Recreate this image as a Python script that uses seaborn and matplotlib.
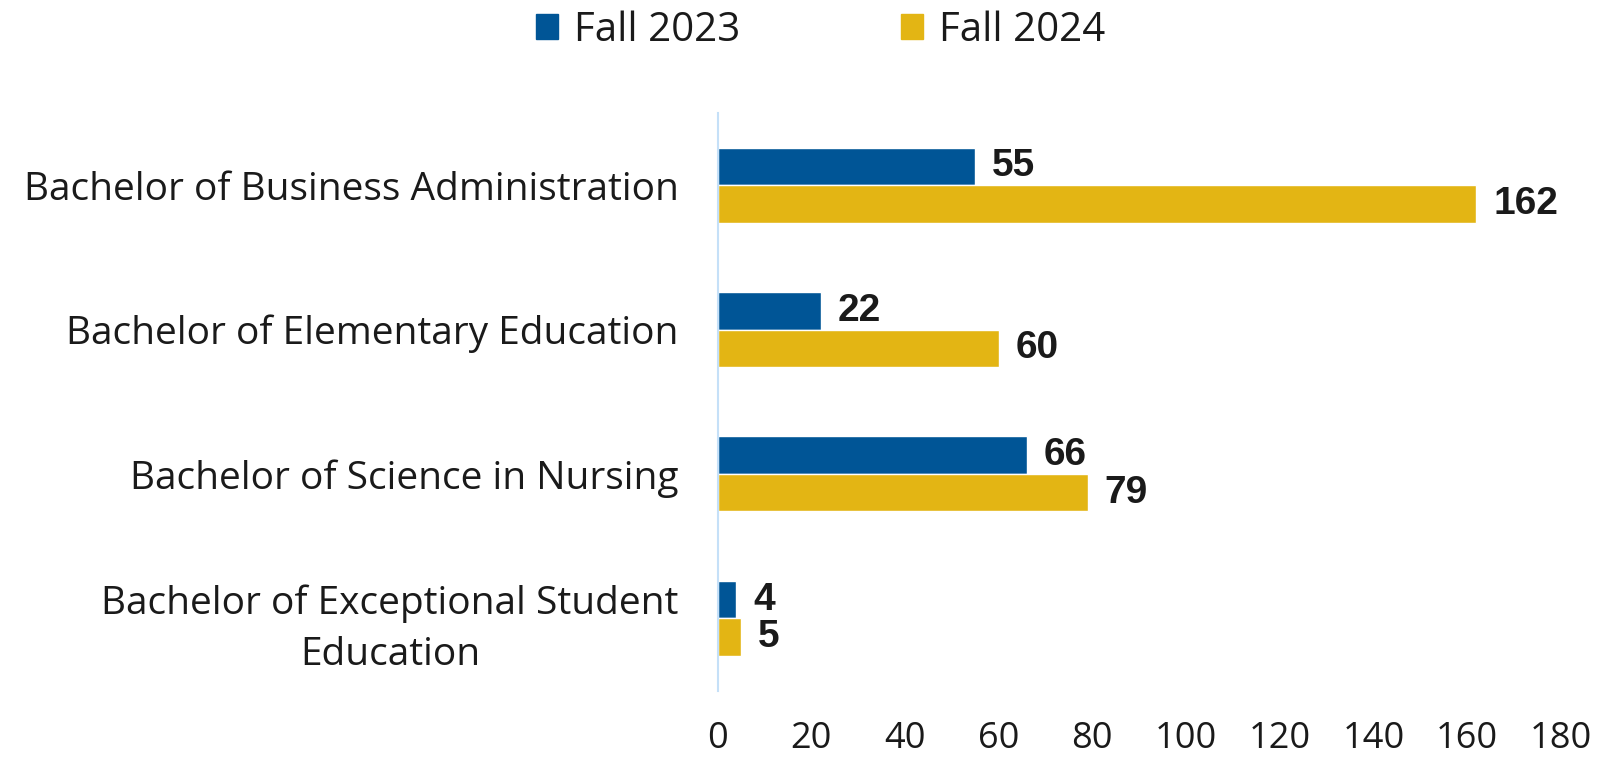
import pandas as pd
import matplotlib
matplotlib.use('Agg')
import matplotlib.pyplot as plt
import seaborn as sns

programs = ['Bachelor of Business Administration',
            'Bachelor of Elementary Education',
            'Bachelor of Science in Nursing',
            'Bachelor of Exceptional Student\nEducation']
terms = ['Fall 2023', 'Fall 2024']
fall_2023 = [55, 22, 66, 4]
fall_2024 = [162, 60, 79, 5]

df = pd.DataFrame({
    'program': programs * 2,
    'term': [terms[0]] * 4 + [terms[1]] * 4,
    'count': fall_2023 + fall_2024,
})

sns.set_style('white')
plt.rcParams['font.family'] = ['Open Sans', 'DejaVu Sans']

fig = plt.figure(figsize=(16.09, 7.63), dpi=100)
ax = fig.add_axes([0.446, 0.095, 0.524, 0.757])

palette = {'Fall 2023': '#005596', 'Fall 2024': '#E3B514'}
sns.barplot(data=df, y='program', x='count', hue='term', orient='h',
            palette=palette, width=0.52, saturation=1, ax=ax, legend=False)

for cont in ax.containers:
    ax.bar_label(cont, padding=12, fontsize=28, fontweight='bold',
                 color='#1a1a1a', family='Liberation Sans')

ax.set_xlim(0, 180)
ax.set_ylim(3.5, -0.5)
ax.set_xticks(range(0, 181, 20))
ax.set_xlabel('')
ax.set_ylabel('')
ax.tick_params(axis='x', length=0, pad=22, labelsize=26, labelcolor='#1a1a1a')
ax.tick_params(axis='y', length=0, pad=28, labelsize=28, labelcolor='#1a1a1a')
for lbl in ax.get_yticklabels():
    lbl.set_multialignment('center')
    lbl.set_linespacing(1.45)

for s in ['top', 'right', 'bottom']:
    ax.spines[s].set_visible(False)
ax.spines['left'].set_color('#C5E0F8')
ax.spines['left'].set_linewidth(1.5)

handles = [plt.Rectangle((0, 0), 1, 1, color=palette[t]) for t in terms]
fig.legend(handles, terms, loc='center', bbox_to_anchor=(0.51, 0.96), ncol=2,
           frameon=False, fontsize=29, handlelength=0.55, handleheight=0.55,
           handletextpad=0.4, columnspacing=4.0, labelcolor='#1a1a1a')

fig.savefig('out.png', dpi=100)
